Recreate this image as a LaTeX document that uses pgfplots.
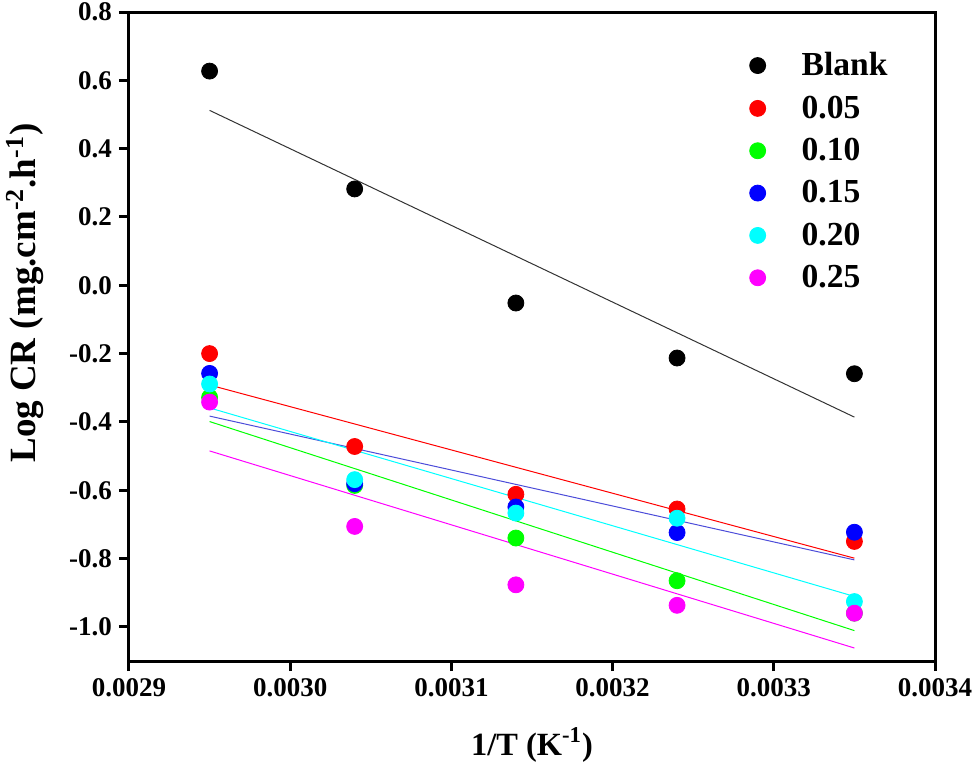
\documentclass[border=0pt]{standalone}
\usepackage{fontspec}
\setmainfont{Liberation Serif}
\usepackage{pgfplots}
\pgfplotsset{compat=1.18}
\definecolor{cR}{rgb}{1,0,0}
\definecolor{cG}{rgb}{0,1,0}
\definecolor{cB}{rgb}{0,0,1}
\definecolor{cC}{rgb}{0,1,1}
\definecolor{cM}{rgb}{1,0,1}
\definecolor{cBl}{rgb}{0.3,0.3,0.85}
\begin{document}
\begin{tikzpicture}
\begin{axis}[
  scale only axis,
  width=403pt, height=324.5pt,
  xmin=0.0029, xmax=0.0034,
  ymin=-1.1, ymax=0.8,
  axis line style={line width=1.5pt},
  every tick/.style={line width=1.5pt, black},
  major tick length=5pt,
  tick align=outside,
  xtick pos=bottom, ytick pos=left,
  xtick={0.0029,0.0030,0.0031,0.0032,0.0033,0.0034},
  ytick={-1.0,-0.8,-0.6,-0.4,-0.2,0,0.2,0.4,0.6,0.8},
  scaled x ticks=false, scaled y ticks=false,
  xticklabel style={/pgf/number format/.cd,fixed,fixed zerofill,precision=4,assume math mode=true},
  yticklabel style={/pgf/number format/.cd,fixed,fixed zerofill,precision=1,assume math mode=true},
  ticklabel style={font=\fontsize{13.5}{16}\selectfont\bfseries},
  xlabel={1/T (K\textsuperscript{-1})},
  ylabel={Log CR (mg.cm\textsuperscript{-2}.h\textsuperscript{-1})},
  x label style={font=\fontsize{16.2}{19}\selectfont\bfseries, at={(axis description cs:0.5,0)}, anchor=center, yshift=-42pt},
  y label style={font=\fontsize{18.5}{21}\selectfont\bfseries, at={(axis description cs:0,0.305)}, anchor=west, inner sep=0pt, yshift=52pt},
  legend image code/.code={\draw[#1] plot coordinates {(0pt,0pt)};},
  legend style={draw=none, fill=none, inner sep=0pt, outer sep=0pt,
    at={(axis description cs:0.78,1)}, anchor=north west, xshift=-4pt, yshift=-18.2pt,
    font=\fontsize{16.8}{20}\selectfont\bfseries, column sep=16pt, row sep=4.5pt},
  legend cell align=left,
  every axis plot/.append style={only marks, mark=*, mark size=4pt, mark options={draw=none}},
]
\addplot[black, mark options={fill=black}] coordinates {(0.00295,0.627) (0.00304,0.282) (0.00314,-0.052) (0.00324,-0.213) (0.00335,-0.259)};
\addlegendentry{Blank}
\addplot[cR, mark options={fill=cR}] coordinates {(0.00295,-0.200) (0.00304,-0.472) (0.00314,-0.612) (0.00324,-0.655) (0.00335,-0.750)};
\addlegendentry{0.05}
\addplot[cG, mark options={fill=cG}] coordinates {(0.00295,-0.328) (0.00304,-0.586) (0.00314,-0.740) (0.00324,-0.865) (0.00335,-0.960)};
\addlegendentry{0.10}
\addplot[cB, mark options={fill=cB}] coordinates {(0.00295,-0.258) (0.00304,-0.581) (0.00314,-0.649) (0.00324,-0.724) (0.00335,-0.723)};
\addlegendentry{0.15}
\addplot[cC, mark options={fill=cC}] coordinates {(0.00295,-0.289) (0.00304,-0.569) (0.00314,-0.667) (0.00324,-0.682) (0.00335,-0.926)};
\addlegendentry{0.20}
\addplot[cM, mark options={fill=cM}] coordinates {(0.00295,-0.342) (0.00304,-0.706) (0.00314,-0.877) (0.00324,-0.937) (0.00335,-0.960)};
\addlegendentry{0.25}
% linear fits
\addplot[forget plot, sharp plot, no marks, black!80, line width=0.5pt] coordinates {(0.00295,0.512) (0.00335,-0.386)};
\addplot[forget plot, sharp plot, no marks, cR, line width=0.5pt] coordinates {(0.00295,-0.292) (0.00335,-0.799)};
\addplot[forget plot, sharp plot, no marks, cG, line width=0.5pt] coordinates {(0.00295,-0.399) (0.00335,-1.011)};
\addplot[forget plot, sharp plot, no marks, cBl, line width=0.5pt] coordinates {(0.00295,-0.383) (0.00335,-0.804)};
\addplot[forget plot, sharp plot, no marks, cC, line width=0.5pt] coordinates {(0.00295,-0.359) (0.00335,-0.911)};
\addplot[forget plot, sharp plot, no marks, cM, line width=0.5pt] coordinates {(0.00295,-0.485) (0.00335,-1.062)};
\end{axis}
\pgfresetboundingbox
\path[use as bounding box] ([xshift=-64.5pt,yshift=-55.5pt]current axis.south west) rectangle ([xshift=20pt,yshift=6pt]current axis.north east);
\end{tikzpicture}
\end{document}
